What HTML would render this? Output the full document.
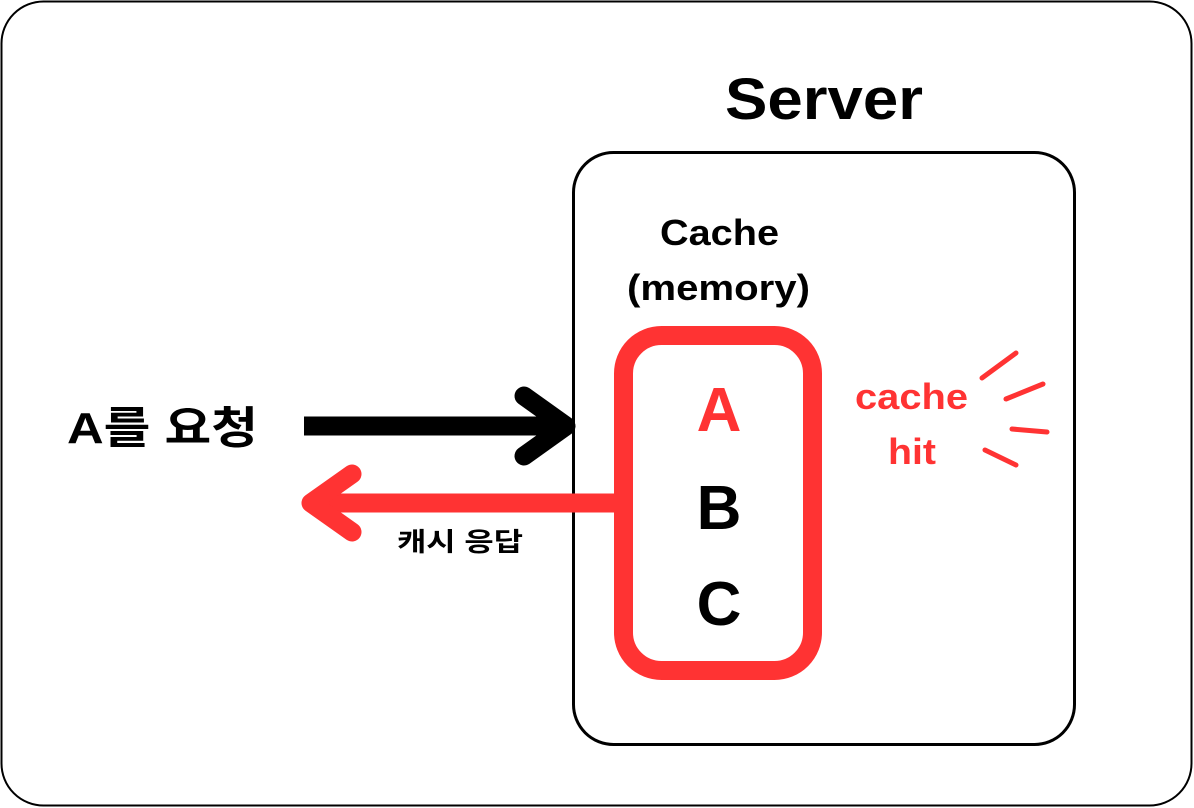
<!DOCTYPE html>
<html><head><style>
body{margin:0;background:#fff;}
svg{display:block}
text{font-family:"Liberation Sans","Noto Sans CJK KR",sans-serif;font-weight:bold;}
</style></head><body>
<svg width="1194" height="808" viewBox="0 0 1194 808">
<rect x="1.5" y="1.5" width="1190" height="804" rx="42" fill="#fff" stroke="#000" stroke-width="2"/>
<text x="725" y="119" font-size="58" textLength="198" lengthAdjust="spacingAndGlyphs">Server</text>
<rect x="573.5" y="152.5" width="501" height="592" rx="40" fill="none" stroke="#000" stroke-width="3"/>
<text x="660" y="245" font-size="36" textLength="119" lengthAdjust="spacingAndGlyphs">Cache</text>
<text x="627" y="300" font-size="36" textLength="183" lengthAdjust="spacingAndGlyphs">(memory)</text>
<rect x="623.5" y="335.5" width="189" height="335" rx="38" fill="none" stroke="#ff3333" stroke-width="19"/>
<text x="719" y="431" font-size="62" text-anchor="middle" fill="#ff3333">A</text>
<text x="719" y="529" font-size="62" text-anchor="middle">B</text>
<text x="719" y="625" font-size="62" text-anchor="middle">C</text>
<text x="855" y="409" font-size="36" fill="#ff3333" textLength="113" lengthAdjust="spacingAndGlyphs">cache</text>
<text x="888" y="464" font-size="36" fill="#ff3333" textLength="48" lengthAdjust="spacingAndGlyphs">hit</text>
<g stroke="#ff3333" stroke-width="5" stroke-linecap="round">
<line x1="982" y1="378" x2="1016" y2="353"/>
<line x1="1006" y1="399" x2="1043" y2="384"/>
<line x1="1012" y1="429" x2="1047" y2="432"/>
<line x1="985" y1="450" x2="1016" y2="465"/>
</g>
<line x1="304" y1="426" x2="565" y2="426" stroke="#000" stroke-width="19"/>
<polyline points="524,396 566,426 524,456" fill="none" stroke="#000" stroke-width="19" stroke-linecap="round" stroke-linejoin="round"/>
<line x1="614" y1="503" x2="315" y2="503" stroke="#ff3333" stroke-width="19"/>
<polyline points="352,474 311,503 352,532" fill="none" stroke="#ff3333" stroke-width="19" stroke-linecap="round" stroke-linejoin="round"/>
<text x="67" y="443" font-size="44" textLength="191" lengthAdjust="spacingAndGlyphs">A를 요청</text>
<text x="397" y="551" font-size="26" textLength="126" lengthAdjust="spacingAndGlyphs">캐시 응답</text>
</svg>
</body></html>
